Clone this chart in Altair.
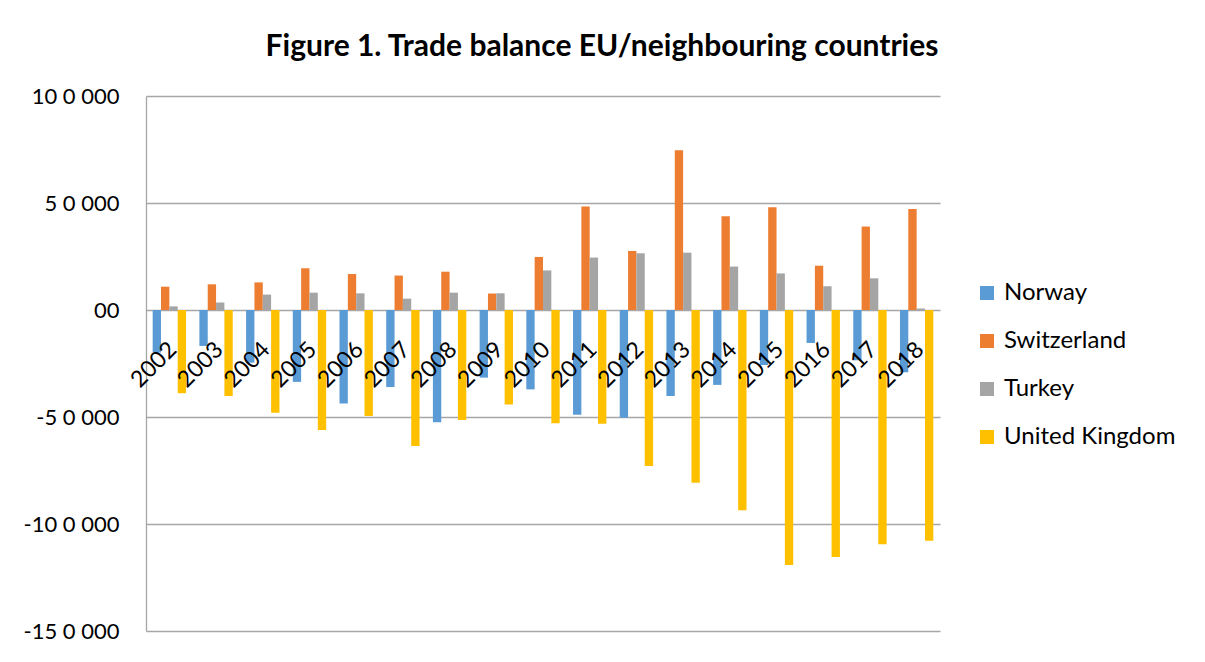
import altair as alt
import pandas as pd

years = [str(y) for y in range(2002, 2019)]
countries = ["Norway", "Switzerland", "Turkey", "United Kingdom"]
colors = ["#5B9BD5", "#ED7D31", "#A5A5A5", "#FFC000"]

norway = [-19900, -16800, -24600, -33600, -43700, -36000, -52500, -31600, -37100,
          -49000, -50400, -40200, -35000, -25700, -15400, -23500, -29100]
switzerland = [10900, 12000, 12900, 19500, 16800, 16100, 17900, 7700, 24800,
               48400, 27600, 74600, 43800, 48000, 20700, 39000, 47200]
turkey = [1700, 3500, 7200, 8100, 7800, 5300, 8100, 7800, 18500,
          24500, 26500, 26800, 20300, 17100, 11100, 14800, 700]
uk = [-38900, -40200, -48000, -56100, -49500, -63500, -51400, -44200, -52900,
      -53200, -72900, -80700, -93600, -119200, -115400, -109500, -107800]

tick_values = [-150000, -100000, -50000, 0, 50000, 100000]
tick_labels = ["-15 0 000", "-10 0 000", "-5 0 000", "00", "5 0 000", "10 0 000"]

series = {"Norway": norway, "Switzerland": switzerland, "Turkey": turkey, "United Kingdom": uk}
rows = []
for c in countries:
    for y, v in zip(years, series[c]):
        rows.append({"year": y, "country": c, "value": v})
df = pd.DataFrame(rows)
labels_df = pd.DataFrame({"year": years, "zero": [0] * len(years)})

label_expr = " : ".join(
    [f"datum.value == {v} ? '{l}'" for v, l in zip(tick_values, tick_labels)]
) + " : ''"

FONT = "Lato"

x_scale = alt.Scale(paddingInner=0.2857, paddingOuter=0.1429)
y_scale = alt.Scale(domain=[-150000, 100000], nice=False)

bars = alt.Chart(df).mark_bar().encode(
    x=alt.X("year:N", axis=None, scale=x_scale, sort=years),
    xOffset=alt.XOffset("country:N", sort=countries,
                        scale=alt.Scale(paddingInner=0, paddingOuter=0)),
    y=alt.Y("value:Q", scale=y_scale, title=None,
            axis=alt.Axis(values=tick_values, labelExpr=label_expr, grid=True,
                          ticks=False, domain=True, domainColor="#a6a6a6",
                          gridColor="#a6a6a6", gridWidth=1.3, domainWidth=1.3,
                          labelFontSize=22, labelFont=FONT, labelColor="#000000",
                          labelPadding=27)),
    color=alt.Color("country:N", sort=countries,
                    scale=alt.Scale(domain=countries, range=colors),
                    legend=alt.Legend(title=None, orient="none", legendX=829, legendY=185,
                                      symbolType="square", symbolSize=196,
                                      symbolStrokeWidth=0, labelFontSize=24,
                                      labelFont=FONT, labelColor="#000000",
                                      labelLimit=400,
                                      rowPadding=24, labelOffset=5, padding=0)),
)

texts = alt.Chart(labels_df).mark_text(
    angle=315, align="right", baseline="middle", dx=-23, dy=28,
    fontSize=23, font=FONT, color="#000000"
).encode(
    x=alt.X("year:N", sort=years, scale=x_scale, axis=None),
    y=alt.Y("zero:Q", scale=y_scale),
    text=alt.Text("year:N"),
)

chart = alt.layer(bars, texts).properties(
    width=794,
    height=535,
    title=alt.TitleParams(
        "Figure 1. Trade balance EU/neighbouring countries",
        fontSize=30, font=FONT, fontWeight="bold", color="#000000",
        anchor="middle", dx=59, offset=23,
    ),
    autosize=alt.AutoSizeParams(type="none"),
    padding={"left": 138, "top": 88, "right": 251, "bottom": 15},
    background="white",
).configure_view(stroke=None)

chart.save("out.html", embed_options={"renderer": "svg", "actions": False})
